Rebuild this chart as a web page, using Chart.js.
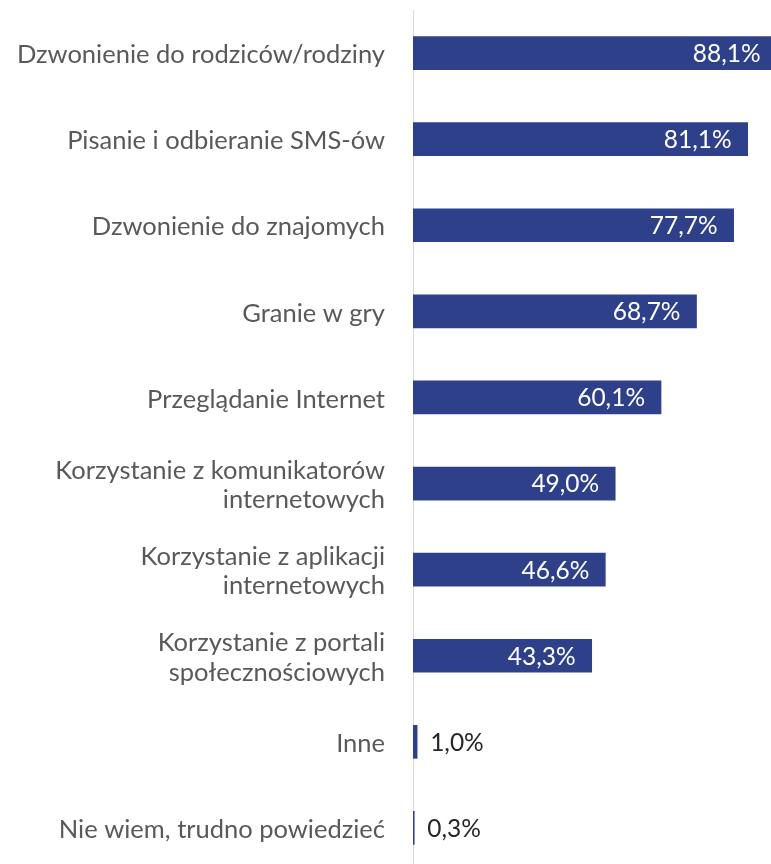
<!DOCTYPE html>
<html>
<head>
<meta charset="utf-8">
<script src="https://cdn.jsdelivr.net/npm/chart.js@4.4.1/dist/chart.umd.min.js"></script>
<style>
    html, body { margin: 0; padding: 0; background: #fff; overflow: hidden; }
    #wrap { width: 771px; height: 864px; overflow: hidden; position: relative; }
    #box { width: 771px; height: 871px; position: absolute; left: 0; top: 0; }
</style>
</head>
<body>
<div id="wrap"><div id="box"><canvas id="CHART_Usage"></canvas></div></div>
<script>
const categories = [
    'Dzwonienie do rodziców/rodziny',
    'Pisanie i odbieranie SMS-ów',
    'Dzwonienie do znajomych',
    'Granie w gry',
    'Przeglądanie Internet',
    ['Korzystanie z komunikatorów', 'internetowych'],
    ['Korzystanie z aplikacji', 'internetowych'],
    ['Korzystanie z portali', 'społecznościowych'],
    'Inne',
    'Nie wiem, trudno powiedzieć'
];
const values = [88.1, 81.1, 77.7, 68.7, 60.1, 49.0, 46.6, 43.3, 1.0, 0.3];

const BarColor = '#2f408b';
const FontName = 'Lato';

// value labels: inside the bar end when it fits, otherwise just after it
const valueLabels = {
    id: 'valueLabels',
    afterDatasetsDraw(chart) {
        let ctx = chart.ctx;
        let meta = chart.getDatasetMeta(0);
        ctx.save();
        ctx.font = `24.5px ${FontName}`;
        ctx.textBaseline = 'middle';
        for (let i = 0; i < meta.data.length; i++) {
            let bar = meta.data[i];
            let txt = values[i].toFixed(1).replace('.', ',') + '%';
            let w = ctx.measureText(txt).width;
            if (bar.x - bar.base > w + 30) {
                ctx.fillStyle = '#ffffff';
                ctx.textAlign = 'right';
                ctx.fillText(txt, bar.x - 16, bar.y + 1);
            } else {
                ctx.fillStyle = '#262626';
                ctx.textAlign = 'left';
                ctx.fillText(txt, bar.x + 13, bar.y + 1);
            }
        }
        ctx.restore();
    }
};

let chart = new Chart(document.getElementById('CHART_Usage').getContext('2d'), {
    type: 'bar',
    data: {
        labels: categories,
        datasets: [{
            data: values,
            backgroundColor: BarColor,
            barThickness: 33,
            categoryPercentage: 1
        }]
    },
    plugins: [valueLabels],
    options: {
        indexAxis: 'y',
        responsive: true,
        maintainAspectRatio: false,
        animation: false,
        layout: {
            padding: { top: 10, right: 0, bottom: 0, left: 0 }
        },
        plugins: {
            legend: { display: false },
            tooltip: { enabled: false }
        },
        scales: {
            x: {
                display: false,
                min: 0,
                max: 86.75
            },
            y: {
                grid: { display: false, drawTicks: false },
                border: { display: true, color: '#d9d9d9', width: 1 },
                ticks: {
                    color: '#595959',
                    padding: 28,
                    labelOffset: 2,
                    font: { family: FontName, size: 25.5, lineHeight: 1.14 }
                },
                afterFit: (scale) => {
                    scale.width = 413;
                    scale.paddingTop = 0;
                    scale.paddingBottom = 0;
                }
            }
        }
    }
});
</script>
</body>
</html>
